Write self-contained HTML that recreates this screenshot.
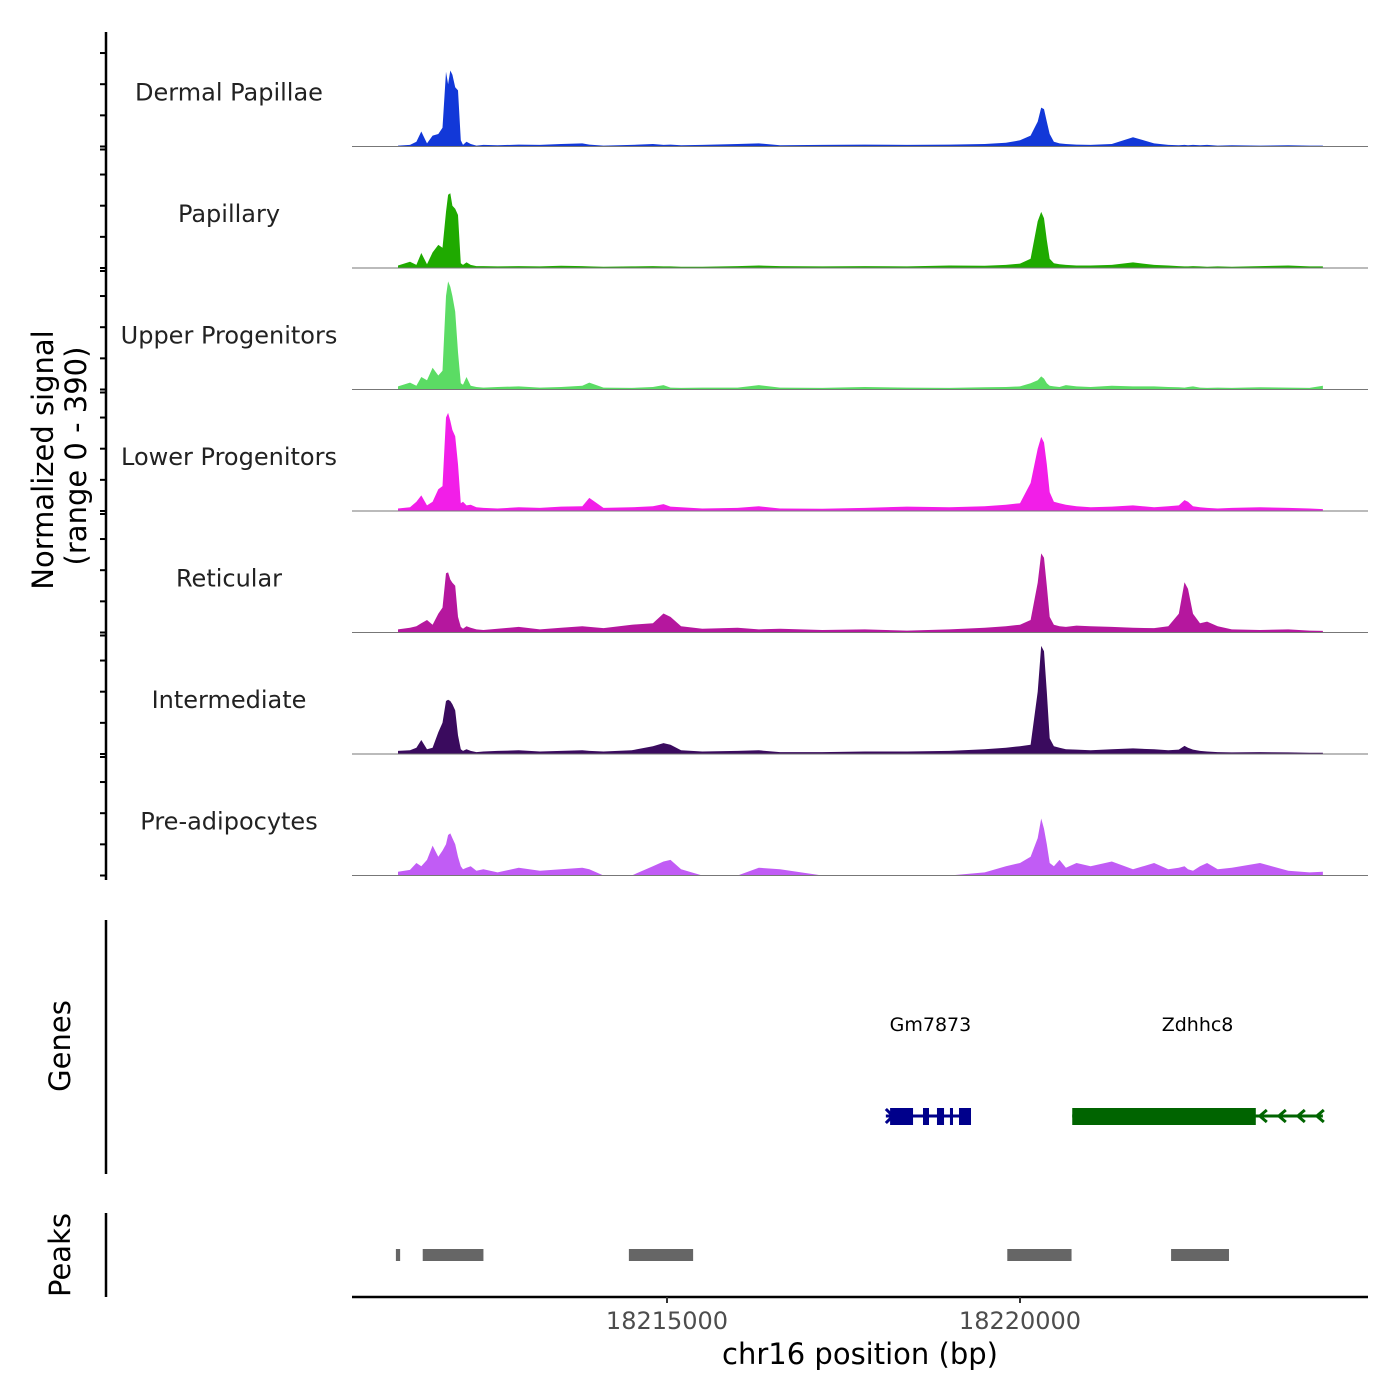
<!DOCTYPE html>
<html><head><meta charset="utf-8"><style>
body{margin:0;background:#fff}
svg{display:block;font-family:"DejaVu Sans","Liberation Sans",sans-serif}
</style></head><body>
<svg id="chart" width="1400" height="1400" viewBox="0 0 1400 1400" xmlns="http://www.w3.org/2000/svg">
<g id="tracks"></g>
<g id="yaxis"></g>
<text transform="translate(53,460) rotate(-90)" text-anchor="middle" font-size="29" fill="#000">Normalized signal</text>
<text transform="translate(86,456) rotate(-90)" text-anchor="middle" font-size="29" fill="#000">(range 0 - 390)</text>
<line x1="106" y1="920" x2="106" y2="1174" stroke="#000" stroke-width="2.5"/>
<text transform="translate(70,1046) rotate(-90)" text-anchor="middle" font-size="29" fill="#000">Genes</text>
<g id="genes"></g>
<line x1="106" y1="1213" x2="106" y2="1297" stroke="#000" stroke-width="2.5"/>
<text transform="translate(70,1255) rotate(-90)" text-anchor="middle" font-size="29" fill="#000">Peaks</text>
<g id="peaks"></g>
<line x1="352" y1="1297" x2="1368" y2="1297" stroke="#000" stroke-width="2.5"/>
<g id="xaxis"></g>
<text x="860" y="1364" text-anchor="middle" font-size="29" fill="#000">chr16 position (bp)</text>
</svg>
<script>
const NS="http://www.w3.org/2000/svg";
const trackNames=["Dermal Papillae","Papillary","Upper Progenitors","Lower Progenitors","Reticular","Intermediate","Pre-adipocytes"];
const trackColors=["#1238d8","#1faa00","#5bdc64","#f21ee8","#b5179e","#3a0b5e","#c15cf5"];
const positions=[190,360,450,520,600,680,760,820,870,900,930,960,1000,1040,1080,1110,1160,1220,1300,1400,1600,1900,2200,2500,2800,2900,3100,3500,3800,3950,4050,4200,4500,5000,5300,5600,6200,6800,7400,8000,8500,8800,9000,9150,9250,9300,9340,9380,9420,9480,9560,9650,9800,10000,10300,10600,10900,11100,11250,11330,11380,11450,11550,11650,11800,12000,12400,12800,13100,13290];
const sigDP=[3,5,15,48,10,35,40,60,240,200,244,230,190,180,20,5,15,8,3,5,4,6,5,8,10,6,3,5,8,5,6,4,5,8,10,4,5,6,5,6,8,12,20,35,80,125,120,80,40,15,10,8,6,5,8,30,10,5,4,5,4,5,4,5,3,4,3,4,3,3];
const sigPap=[8,20,10,48,12,50,74,65,180,235,240,200,190,170,15,10,18,10,6,6,5,6,5,7,6,5,4,5,6,5,5,4,4,6,8,6,5,6,5,8,7,10,14,30,150,180,160,90,30,15,12,10,8,8,10,18,10,8,6,5,5,6,5,4,5,4,6,8,5,5];
const sigUP=[10,22,12,40,30,70,45,60,300,347,330,300,250,120,20,15,40,12,8,6,8,10,6,8,12,22,6,5,8,14,6,5,6,6,14,6,5,8,6,5,7,8,10,20,30,42,35,20,12,10,8,14,10,8,12,10,10,8,7,6,8,10,6,5,6,5,7,6,5,12];
const sigLP=[8,12,30,50,18,30,70,80,300,315,290,260,240,150,25,30,18,20,12,10,8,12,10,14,15,42,10,12,15,22,14,12,8,10,15,8,7,10,14,12,15,20,25,90,200,238,220,150,60,30,25,20,15,12,14,18,12,15,18,35,30,15,12,10,8,10,12,10,8,6];
const sigRet=[10,15,20,30,40,25,60,80,190,193,170,160,150,50,18,12,20,15,10,8,12,18,10,15,20,18,14,25,30,61,50,20,12,15,10,12,8,10,6,10,15,20,25,40,160,254,240,150,50,25,20,18,22,20,18,15,14,20,60,161,140,60,30,35,20,10,8,10,6,5];
const sigInt=[10,12,20,45,15,20,70,100,170,174,170,160,140,60,15,10,15,10,6,8,10,12,8,10,12,10,8,12,25,35,30,12,8,10,12,6,6,8,8,10,15,20,25,30,200,347,330,200,50,25,20,15,14,12,15,18,15,12,14,26,20,14,10,8,6,5,6,5,4,4];
const sigPre=[12,18,40,30,50,96,60,80,100,130,135,120,100,60,30,20,25,30,15,20,10,25,15,20,25,20,0,0,30,45,50,20,0,0,25,20,0,0,0,0,10,30,40,60,120,183,150,100,40,30,50,25,40,30,45,20,40,20,25,30,20,15,30,40,20,25,40,15,10,12];
const series=[sigDP,sigPap,sigUP,sigLP,sigRet,sigInt,sigPre];
const xTicks=[18215000,18220000];
const peakStarts=[18211160,18211540,18214460,18219820,18222140];
const peakEnds=[18211220,18212400,18215370,18220730,18222960];
const geneNames=["Gm7873","Zdhhc8"];
const gmExonStarts=[18218160,18218626,18218824,18219008,18219136];
const gmExonEnds=[18218485,18218711,18218924,18219051,18219306];
const gmStart=18218100, gmEnd=18219306;
const zdStart=18220740, zdCdsEnd=18223340, zdEnd=18224290;
const REGION0=18211000;

const x=bp=>667+(bp-18215000)*0.0706;
const trackH=121.5, top0=25;
const base=i=>top0+trackH*(i+1);
const yv=(i,v)=>base(i)-v*(trackH/390);

const gT=document.getElementById('tracks');
trackNames.forEach((name,i)=>{
  const g=document.createElementNS(NS,'g');
  
  
  let d='M'+x(REGION0+positions[0])+','+base(i);
  series[i].forEach((v,k)=>{d+=' L'+x(REGION0+positions[k]).toFixed(1)+','+yv(i,v).toFixed(1);});
  d+=' L'+x(REGION0+positions[positions.length-1])+','+base(i)+' Z';
  const p=document.createElementNS(NS,'path');
  p.setAttribute('d',d);p.setAttribute('fill',trackColors[i]);
  
  
  g.appendChild(p);
  const l=document.createElementNS(NS,'line');
  l.setAttribute('x1',352);l.setAttribute('x2',1368);l.setAttribute('y1',base(i));l.setAttribute('y2',base(i));
  l.setAttribute('stroke','#777');l.setAttribute('stroke-width','1');
  
  
  g.appendChild(l);
  const t=document.createElementNS(NS,'text');
  t.setAttribute('x',229);t.setAttribute('y',base(i)-46);t.setAttribute('text-anchor','middle');
  t.setAttribute('font-size','24');t.setAttribute('fill','#222');t.textContent=name;
  
  
  g.appendChild(t);
  gT.appendChild(g);
});
const gY=document.getElementById('yaxis');
let ya=document.createElementNS(NS,'line');
ya.setAttribute('x1',106);ya.setAttribute('x2',106);ya.setAttribute('y1',32);ya.setAttribute('y2',880);
ya.setAttribute('stroke','#000');ya.setAttribute('stroke-width','2.5');


gY.appendChild(ya);
const tickVals=[0,100,200,300,390];
for(let i=0;i<7;i++){tickVals.forEach(v=>{
  if(i===0&&v===390) return;
  const tk=document.createElementNS(NS,'line');
  const yy=yv(i,v)+(v===390?3:0);
  tk.setAttribute('x1',100);tk.setAttribute('x2',106);tk.setAttribute('y1',yy);tk.setAttribute('y2',yy);
  tk.setAttribute('stroke','#000');tk.setAttribute('stroke-width','2');
  
  
  gY.appendChild(tk);
});}
const gX=document.getElementById('xaxis');
xTicks.forEach(v=>{
  const tk=document.createElementNS(NS,'line');
  tk.setAttribute('x1',x(v));tk.setAttribute('x2',x(v));tk.setAttribute('y1',1297);tk.setAttribute('y2',1303);
  tk.setAttribute('stroke','#333');tk.setAttribute('stroke-width','2');
  
  
  gX.appendChild(tk);
  const t=document.createElementNS(NS,'text');
  t.setAttribute('x',x(v));t.setAttribute('y',1329);t.setAttribute('text-anchor','middle');
  t.setAttribute('font-size','24');t.setAttribute('fill','#4d4d4d');t.textContent=v;
  
  
  gX.appendChild(t);
});
const gP=document.getElementById('peaks');
peakStarts.forEach((s,k)=>{
  const r=document.createElementNS(NS,'rect');
  r.setAttribute('x',x(s));r.setAttribute('width',x(peakEnds[k])-x(s));
  r.setAttribute('y',1249);r.setAttribute('height',12);r.setAttribute('fill','#666');
  
  
  gP.appendChild(r);
});
const gG=document.getElementById('genes');
function el(tag,attrs,name){const e=document.createElementNS(NS,tag);for(const k in attrs)e.setAttribute(k,attrs[k]);
  
  
  gG.appendChild(e);return e;}
el('line',{x1:x(gmStart),x2:x(gmEnd),y1:1116,y2:1116,stroke:'#00008b','stroke-width':3},'gm7873-intron-line');
el('path',{d:`M${x(gmStart)},1109 L${x(gmStart)+7},1116 L${x(gmStart)},1123`,fill:'none',stroke:'#00008b','stroke-width':3},'gm7873-strand-arrow');
gmExonStarts.forEach((s,k)=>el('rect',{x:x(s),width:x(gmExonEnds[k])-x(s),y:1108,height:17,fill:'#00008b'},'gm7873-exon'));
el('text',{x:(x(gmStart)+x(gmEnd))/2+2,y:1031,'text-anchor':'middle','font-size':'19',fill:'#000'},'gene-label').textContent=geneNames[0];
el('line',{x1:x(zdStart),x2:x(zdEnd),y1:1116,y2:1116,stroke:'#006400','stroke-width':3},'zdhhc8-intron-line');
el('rect',{x:x(zdStart),width:x(zdCdsEnd)-x(zdStart),y:1108,height:17,fill:'#006400'},'zdhhc8-exon');
[0,1,2,3].forEach(k=>{const ax=x(zdCdsEnd)+4+k*19;
  el('path',{d:`M${ax+7},1110 L${ax},1116 L${ax+7},1122`,fill:'none',stroke:'#006400','stroke-width':3},'zdhhc8-strand-arrow');});
el('text',{x:(x(zdStart)+x(zdEnd))/2,y:1031,'text-anchor':'middle','font-size':'19',fill:'#000'},'gene-label').textContent=geneNames[1];
</script>
</body></html>
